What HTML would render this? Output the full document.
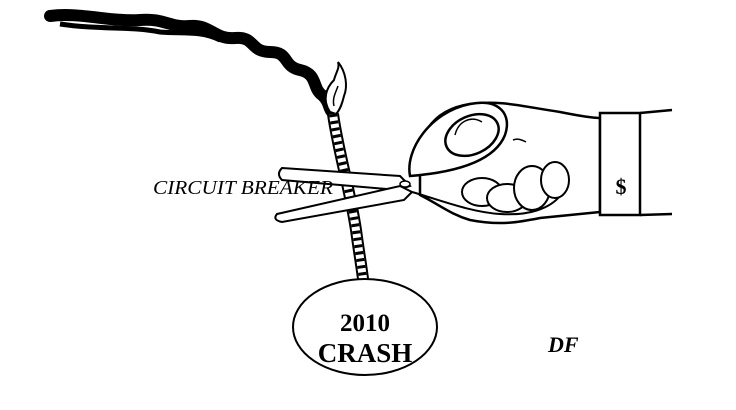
<!DOCTYPE html>
<html><head><style>
html,body{margin:0;padding:0;background:#fff;}
svg{display:block;}
</style></head><body>
<svg width="736" height="410" viewBox="0 0 736 410" xmlns="http://www.w3.org/2000/svg">
<rect width="736" height="410" fill="#fff"/>
<!-- smoke -->
<path d="M50,16 C80,12 110,22 140,20 C165,18 170,28 190,26 C210,24 215,40 235,38 C255,36 250,52 270,52 C290,52 282,66 300,70 C318,74 312,88 322,95 C330,102 328,108 332,112" fill="none" stroke="#000" stroke-width="12" stroke-linecap="round"/>
<path d="M60,24 C100,30 130,26 160,32 C180,34 200,30 220,40" fill="none" stroke="#000" stroke-width="5"/>
<!-- flame -->
<path d="M330,112 C322,100 326,88 334,80 C336,72 340,68 338,62 C346,72 348,86 344,96 C342,104 340,110 336,114 Z" fill="#fff" stroke="#000" stroke-width="2"/>
<path d="M334,106 C332,98 336,92 338,86" fill="none" stroke="#000" stroke-width="1.5"/>
<!-- rope -->
<path d="M333,114 C338,150 350,190 356,230 C360,260 364,280 365,298" fill="none" stroke="#000" stroke-width="12"/>
<path d="M333,114 C338,150 350,190 356,230 C360,260 364,280 365,298" fill="none" stroke="#fff" stroke-width="8"/>
<path d="M333,114 C338,150 350,190 356,230 C360,260 364,280 365,298" fill="none" stroke="#000" stroke-width="8" stroke-dasharray="3 4"/>
<!-- ball -->
<ellipse cx="365" cy="327" rx="72" ry="48" fill="#fff" stroke="#000" stroke-width="2"/>
<text x="365" y="331" font-family="Liberation Serif, serif" font-weight="bold" font-size="25" text-anchor="middle">2010</text>
<text x="365" y="362" font-family="Liberation Serif, serif" font-weight="bold" font-size="27" text-anchor="middle">CRASH</text>
<!-- hand -->
<path d="M420,170 C415,140 430,110 470,104 C500,100 520,106 560,112 C580,116 595,118 600,118 L600,212 C580,214 560,216 540,218 C520,222 500,226 470,220 C450,214 440,205 420,195 Z" fill="#fff" stroke="#000" stroke-width="2.5"/>
<!-- upper loop -->
<path d="M410,176 C405,150 430,112 470,104 C500,98 512,115 505,135 C495,160 460,172 410,176 Z" fill="#fff" stroke="#000" stroke-width="2.5"/>
<ellipse cx="472" cy="135" rx="28" ry="19" transform="rotate(-25 472 135)" fill="#fff" stroke="#000" stroke-width="2.5"/>
<path d="M455,135 C458,122 470,115 482,122" fill="none" stroke="#000" stroke-width="1.5"/>
<!-- scissors blades -->
<path d="M282,168 L400,176 L410,186 L398,190 L282,180 Q276,174 282,168 Z" fill="#fff" stroke="#000" stroke-width="2"/>
<path d="M277,214 L400,186 L412,192 L404,200 L282,222 Q272,220 277,214 Z" fill="#fff" stroke="#000" stroke-width="2"/>
<ellipse cx="405" cy="184" rx="5" ry="3" fill="#fff" stroke="#000" stroke-width="1.5"/>
<!-- lower loop -->
<path d="M412,192 C440,200 470,212 500,214 C530,216 550,208 560,196" fill="none" stroke="#000" stroke-width="2"/>
<!-- fingers -->
<ellipse cx="482" cy="192" rx="20" ry="14" fill="#fff" stroke="#000" stroke-width="2"/>
<ellipse cx="507" cy="198" rx="20" ry="14" fill="#fff" stroke="#000" stroke-width="2"/>
<ellipse cx="532" cy="188" rx="18" ry="22" fill="#fff" stroke="#000" stroke-width="2"/>
<ellipse cx="555" cy="180" rx="14" ry="18" fill="#fff" stroke="#000" stroke-width="2"/>
<path d="M513,140 C518,138 522,140 526,142" fill="none" stroke="#000" stroke-width="1.5"/>
<!-- cuff -->
<rect x="600" y="113" width="40" height="102" fill="#fff" stroke="#000" stroke-width="2.5"/>
<path d="M640,113 L672,110 M640,215 L672,214" stroke="#000" stroke-width="2.5"/>
<text x="621" y="194" font-family="Liberation Serif, serif" font-weight="bold" font-size="22" text-anchor="middle">$</text>
<!-- label -->
<text x="153" y="194" font-family="Liberation Serif, serif" font-style="italic" font-size="20" textLength="180" lengthAdjust="spacingAndGlyphs">CIRCUIT BREAKER</text>
<!-- signature -->
<text x="548" y="352" font-family="Liberation Serif, serif" font-style="italic" font-weight="bold" font-size="22">DF</text>
</svg>
</body></html>
